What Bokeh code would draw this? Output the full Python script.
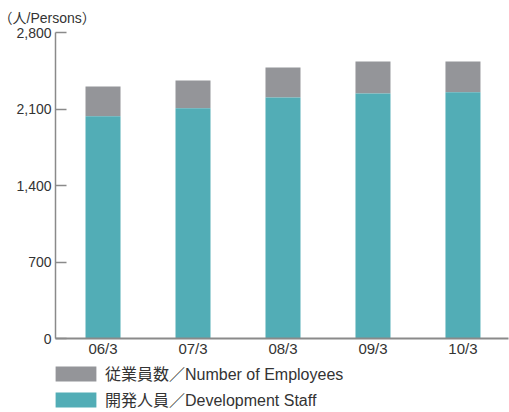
from bokeh.plotting import figure
from bokeh.layouts import column
from bokeh.models import (Range1d, FixedTicker, NumeralTickFormatter, Legend,
                          LegendItem, ColumnDataSource)
from bokeh.embed import file_html
from bokeh.resources import INLINE

categories = ["06/3", "07/3", "08/3", "09/3", "10/3"]
employees = [2306, 2361, 2479, 2534, 2534]
dev_staff = [2034, 2107, 2205, 2241, 2253]
y_ticks = [0, 700, 1400, 2100, 2800]
series_labels = ["従業員数／Number of Employees", "開発人員／Development Staff"]

FONT = "'Liberation Sans', 'Noto Sans CJK JP', sans-serif"
TXT = "#333333"
AX = "#8a8a8a"
GRAY = "#949599"
TEAL = "#52adb6"

xs = list(range(len(categories)))
src = ColumnDataSource(dict(x=xs, emp=employees, dev=dev_staff))

p = figure(width=509, height=364, output_backend="svg", toolbar_location=None,
           x_range=Range1d(-0.528, 4.506), y_range=Range1d(0, 2800),
           min_border_left=55, min_border_right=1, min_border_top=32,
           min_border_bottom=26)

p.vbar(x="x", bottom="dev", top="emp", width=0.389, fill_color=GRAY,
       line_color=None, source=src)
p.vbar(x="x", bottom=0, top="dev", width=0.389, fill_color=TEAL,
       line_color=None, source=src)

p.title.text = "（人/Persons）"
p.title.align = "left"
p.title.offset = -57
p.title.standoff = 13
p.title.text_font = FONT
p.title.text_font_size = "14px"
p.title.text_font_style = "normal"
p.title.text_color = TXT

p.xgrid.visible = False
p.ygrid.visible = False
p.outline_line_color = None

p.yaxis.ticker = FixedTicker(ticks=y_ticks)
p.yaxis.formatter = NumeralTickFormatter(format="0,0")
p.yaxis.major_tick_in = 11
p.yaxis.major_tick_out = 0
p.yaxis.minor_tick_line_color = None
p.yaxis.axis_line_color = AX
p.yaxis.axis_line_width = 1.5
p.yaxis.major_tick_line_color = AX
p.yaxis.major_tick_line_width = 1.5
p.yaxis.major_label_standoff = 4
p.yaxis.major_label_text_font = FONT
p.yaxis.major_label_text_font_size = "14px"
p.yaxis.major_label_text_color = TXT

p.xaxis.ticker = FixedTicker(ticks=xs)
p.xaxis.major_label_overrides = {i: c for i, c in zip(xs, categories)}
p.xaxis.major_tick_in = 0
p.xaxis.major_tick_out = 0
p.xaxis.minor_tick_line_color = None
p.xaxis.axis_line_color = AX
p.xaxis.axis_line_width = 2
p.xaxis.major_label_standoff = 1
p.xaxis.major_label_text_font = FONT
p.xaxis.major_label_text_font_size = "15px"
p.xaxis.major_label_text_color = TXT

# legend strip (swatch renderers sit outside the visible range)
lg = figure(width=509, height=48, output_backend="svg", toolbar_location=None,
            x_range=Range1d(0, 1), y_range=Range1d(0, 1),
            x_axis_location=None, y_axis_location=None,
            min_border_left=55, min_border_right=0, min_border_top=0,
            min_border_bottom=0)
lg.xgrid.visible = False
lg.ygrid.visible = False
lg.outline_line_color = None
swatch = ColumnDataSource(dict(x=[-10], top=[-10]))
g_emp = lg.vbar(x="x", top="top", width=0.1, fill_color=GRAY, line_color=None,
                source=swatch)
g_dev = lg.vbar(x="x", top="top", width=0.1, fill_color=TEAL, line_color=None,
                source=swatch)

legend = Legend(items=[
    LegendItem(label=series_labels[0], renderers=[g_emp]),
    LegendItem(label=series_labels[1], renderers=[g_dev]),
], location=(-5, 1), orientation="vertical",
    glyph_width=51, glyph_height=19, label_height=22, spacing=2,
    label_standoff=4, padding=0, margin=0, border_line_color=None,
    background_fill_alpha=0, label_text_font=FONT,
    label_text_font_size="16px", label_text_color=TXT)
lg.add_layout(legend)

layout = column(p, lg, spacing=0)
open("out.html", "w").write(file_html(layout, INLINE))
